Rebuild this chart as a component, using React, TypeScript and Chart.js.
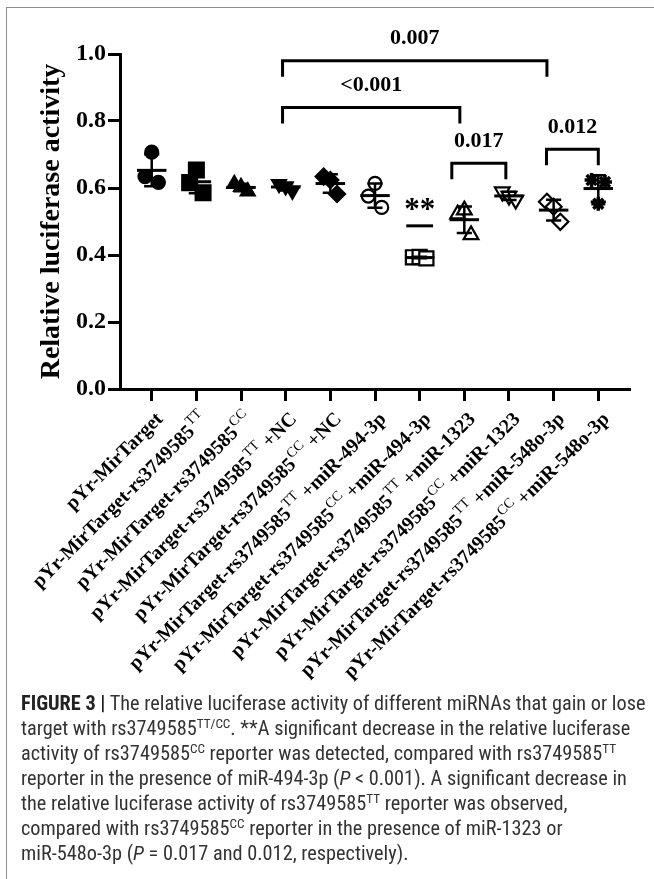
import React, { useEffect, useRef } from "react";
import { Chart, registerables } from "chart.js";

Chart.register(...registerables);

// ---------- DATA ----------
const genotype = ["", "TT", "CC", "TT", "CC", "TT", "CC", "TT", "CC", "TT", "CC"];
const treatment = ["", "", "", " +NC", " +NC", " +miR-494-3p", " +miR-494-3p", " +miR-1323", " +miR-1323", " +miR-548o-3p", " +miR-548o-3p"];

// replicate values per group (left, centre, right replicate)
const g1 = [0.634, 0.707, 0.617];
const g2 = [0.616, 0.654, 0.586];
const g3 = [0.612, 0.603, 0.59];
const g4 = [0.612, 0.605, 0.592];
const g5 = [0.634, 0.624, 0.582];
const g6 = [0.576, 0.614, 0.542];
const g7 = [0.393, 0.394, 0.39];
const g8 = [0.522, 0.534, 0.46];
const g9 = [0.589, 0.576, 0.564];
const g10 = [0.559, 0.544, 0.499];
const g11 = [0.624, 0.553, 0.618];
const groups = [g1, g2, g3, g4, g5, g6, g7, g8, g9, g10, g11];

const yTicks = [0, 0.2, 0.4, 0.6, 0.8, 1.0];

// significance brackets
const bracketFrom = [2.93, 2.93, 6.72, 8.84];
const bracketTo = [8.85, 6.9, 7.93, 10.0];
const bracketLevel = [0.98, 0.84, 0.674, 0.716];
const bracketLabel = ["0.007", "<0.001", "0.017", "0.012"];

// ** marker
const starGroup = 6;
const starLevel = 0.487;

// ---------- STYLE ----------
const SERIF = "'Times New Roman', 'Liberation Serif', serif";
const markerStyle: any[] = [
  { pointStyle: "circle", radius: 6.5, fill: true },
  { pointStyle: "rect", radius: 10.5, fill: true },
  { pointStyle: "triangle", radius: 8, fill: true },
  { pointStyle: "triangle", radius: 8, fill: true, rotation: 180 },
  { pointStyle: "rectRot", radius: 8, fill: true },
  { pointStyle: "circle", radius: 6.5, fill: false },
  { pointStyle: "rect", radius: 10, fill: false },
  { pointStyle: "triangle", radius: 8.5, fill: false },
  { pointStyle: "triangle", radius: 8.5, fill: false, rotation: 180 },
  { pointStyle: "rectRot", radius: 8, fill: false },
  { pointStyle: "star", radius: 7, fill: true },
];
const jitter = [-0.15, 0, 0.15];

function mean(a: number[]) {
  return a.reduce((s, v) => s + v, 0) / a.length;
}
function sd(a: number[]) {
  const m = mean(a);
  return Math.sqrt(a.reduce((s, v) => s + (v - m) * (v - m), 0) / (a.length - 1));
}

const overlayPlugin = {
  id: "overlay",
  afterDatasetsDraw(chart: any) {
    const ctx = chart.ctx;
    const xs = chart.scales.x;
    const ys = chart.scales.y;
    ctx.save();
    ctx.strokeStyle = "#000";
    ctx.fillStyle = "#000";
    // mean and SD
    groups.forEach((g, i) => {
      const m = mean(g);
      const s = sd(g);
      const cx = xs.getPixelForValue(i);
      const ym = ys.getPixelForValue(m);
      const yt = ys.getPixelForValue(m + s);
      const yb = ys.getPixelForValue(m - s);
      const half = xs.getPixelForValue(i + 0.33) - cx;
      const cap = xs.getPixelForValue(i + 0.17) - cx;
      ctx.lineWidth = 2.5;
      ctx.beginPath();
      ctx.moveTo(cx, yt);
      ctx.lineTo(cx, yb);
      ctx.moveTo(cx - cap, yt);
      ctx.lineTo(cx + cap, yt);
      ctx.moveTo(cx - cap, yb);
      ctx.lineTo(cx + cap, yb);
      ctx.stroke();
      ctx.lineWidth = 3;
      ctx.beginPath();
      ctx.moveTo(cx - half, ym);
      ctx.lineTo(cx + half, ym);
      ctx.stroke();
    });
    // ** marker
    {
      const cx = xs.getPixelForValue(starGroup);
      const y = ys.getPixelForValue(starLevel);
      const half = xs.getPixelForValue(starGroup + 0.3) - cx;
      ctx.lineWidth = 3;
      ctx.beginPath();
      ctx.moveTo(cx - half, y);
      ctx.lineTo(cx + half, y);
      ctx.stroke();
      ctx.font = `bold 31px ${SERIF}`;
      ctx.textAlign = "center";
      ctx.textBaseline = "middle";
      ctx.fillText("**", cx, y - 15);
    }
    // brackets
    ctx.lineWidth = 3;
    bracketLabel.forEach((lab, k) => {
      const x1 = xs.getPixelForValue(bracketFrom[k]);
      const x2 = xs.getPixelForValue(bracketTo[k]);
      const y = ys.getPixelForValue(bracketLevel[k]);
      ctx.beginPath();
      ctx.moveTo(x1, y + 16);
      ctx.lineTo(x1, y);
      ctx.lineTo(x2, y);
      ctx.lineTo(x2, y + 16);
      ctx.stroke();
      ctx.font = `bold 22px ${SERIF}`;
      ctx.textAlign = "center";
      ctx.textBaseline = "middle";
      ctx.fillText(lab, (x1 + x2) / 2, y - 22);
    });
    // x labels with superscripts
    const bottom = chart.chartArea.bottom;
    const mainFont = `bold 19.8px ${SERIF}`;
    const supFont = `14px ${SERIF}`;
    genotype.forEach((gt, i) => {
      const base = i === 0 ? "pYr-MirTarget" : "pYr-MirTarget-rs3749585";
      const suffix = treatment[i];
      ctx.save();
      ctx.translate(xs.getPixelForValue(i) + 12, bottom + 31);
      ctx.rotate(-Math.PI / 4);
      ctx.textAlign = "left";
      ctx.textBaseline = "alphabetic";
      ctx.font = mainFont;
      const wBase = ctx.measureText(base).width;
      const wSuf = ctx.measureText(suffix).width;
      ctx.font = supFont;
      const wSup = gt ? ctx.measureText(gt).width + 1 : 0;
      let x = -(wBase + wSup + wSuf);
      ctx.font = mainFont;
      ctx.fillText(base, x, 0);
      x += wBase;
      if (gt) {
        ctx.font = supFont;
        ctx.fillText(gt, x + 1, -8.5);
        x += wSup;
      }
      ctx.font = mainFont;
      ctx.fillText(suffix, x, 0);
      ctx.restore();
    });
    ctx.restore();
  },
};

function ChartView() {
  const ref = useRef<HTMLCanvasElement>(null);
  useEffect(() => {
    if (!ref.current) return;
    const datasets = groups.map((g, i) => {
      const st = markerStyle[i];
      return {
        label: "G" + (i + 1),
        data: g.map((v, j) => ({ x: i + jitter[j], y: v })),
        pointStyle: st.pointStyle,
        pointRadius: st.radius,
        pointRotation: st.rotation || 0,
        pointBackgroundColor: st.fill ? "#000" : "#fff",
        pointBorderColor: "#000",
        pointBorderWidth: st.pointStyle === "star" ? 3.5 : 2.2,
        showLine: false,
      };
    });
    const chart = new Chart(ref.current, {
      type: "scatter",
      data: { datasets },
      plugins: [overlayPlugin],
      options: {
        animation: false,
        responsive: false,
        devicePixelRatio: 1,
        layout: { padding: { left: 0, right: 24, top: 54, bottom: 0 } },
        plugins: { legend: { display: false }, tooltip: { enabled: false } },
        scales: {
          x: {
            type: "linear",
            min: -0.71,
            max: 10.71,
            afterBuildTicks: (s: any) => {
              s.ticks = genotype.map((_, i) => ({ value: i }));
            },
            afterFit: (s: any) => {
              s.height = 331;
            },
            ticks: { display: false },
            grid: { drawOnChartArea: false, drawTicks: true, tickLength: 12, tickWidth: 3, tickColor: "#000" },
            border: { display: true, width: 3, color: "#000" },
          },
          y: {
            min: 0,
            max: 1,
            afterBuildTicks: (s: any) => {
              s.ticks = yTicks.map((v) => ({ value: v }));
            },
            afterFit: (s: any) => {
              s.width = 120;
            },
            ticks: {
              color: "#000",
              font: { family: SERIF, size: 24, weight: "bold" },
              padding: 2,
              callback: (v: any) => Number(v).toFixed(1),
            },
            grid: { drawOnChartArea: false, drawTicks: true, tickLength: 12, tickWidth: 3, tickColor: "#000" },
            border: { display: true, width: 3, color: "#000" },
            title: {
              display: true,
              text: "Relative luciferase activity",
              color: "#000",
              font: { family: SERIF, size: 28, weight: "bold" },
              padding: { top: 35, bottom: 0 },
            },
          },
        },
      } as any,
    });
    return () => chart.destroy();
  }, []);
  return <canvas ref={ref} width={654} height={720} style={{ position: "absolute", left: 0, top: 0, width: 654, height: 720 }} />;
}

const capStyle: React.CSSProperties = {
  position: "absolute",
  left: 21,
  whiteSpace: "nowrap",
  fontFamily: "'Liberation Sans Narrow', 'Arial Narrow', 'Roboto Condensed', 'Liberation Sans', sans-serif",
  fontSize: 20.3,
  color: "#333",
  lineHeight: "20px",
};
const supS: React.CSSProperties = { fontSize: "0.65em", verticalAlign: "0.55em", lineHeight: 0 };

export default function App() {
  const lines: React.ReactNode[] = [
    <>
      <b style={{ color: "#222" }}>FIGURE 3 |</b> The relative luciferase activity of different miRNAs that gain or lose
    </>,
    <>
      target with rs3749585<span style={supS}>TT/CC</span>. **A significant decrease in the relative luciferase
    </>,
    <>
      activity of rs3749585<span style={supS}>CC</span> reporter was detected, compared with rs3749585<span style={supS}>TT</span>
    </>,
    <>
      reporter in the presence of miR-494-3p (<i>P</i> &lt; 0.001). A significant decrease in
    </>,
    <>
      the relative luciferase activity of rs3749585<span style={supS}>TT</span> reporter was observed,
    </>,
    <>
      compared with rs3749585<span style={supS}>CC</span> reporter in the presence of miR-1323 or
    </>,
    <>
      miR-548o-3p (<i>P</i> = 0.017 and 0.012, respectively).
    </>,
  ];
  return (
    <div style={{ position: "absolute", left: 0, top: 0, width: 654, height: 879, overflow: "hidden", background: "#fff" }}>
      <div style={{ position: "absolute", left: 6, top: 7, width: 700, height: 900, border: "1.5px solid #8c8c8c", boxSizing: "border-box" }} />
      <ChartView />
      {lines.map((l, i) => (
        <div key={i} style={{ ...capStyle, top: 693 + i * 25 }}>
          {l}
        </div>
      ))}
    </div>
  );
}
